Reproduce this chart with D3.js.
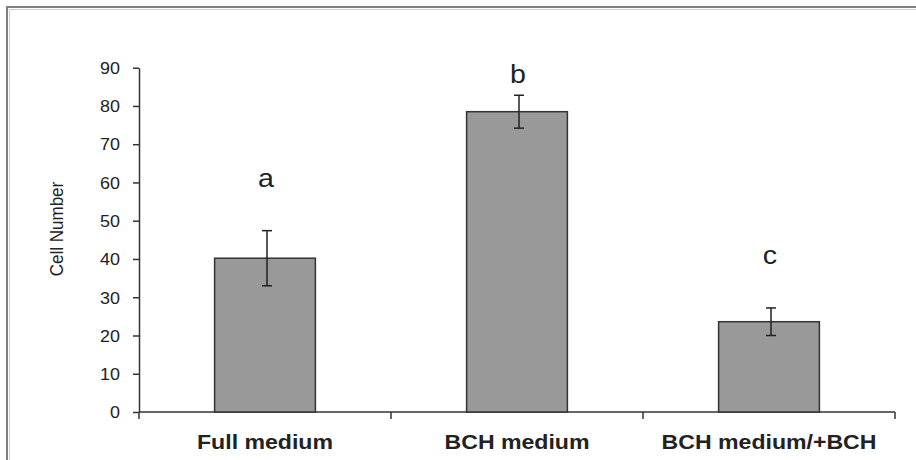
<!DOCTYPE html>
<html>
<head>
<meta charset="utf-8">
<script src="https://cdn.jsdelivr.net/npm/d3@7"></script>
<style>
  html, body { margin: 0; padding: 0; background: #fff; }
  svg { display: block; }
  text { font-family: "Liberation Sans", Arial, sans-serif; fill: #222; }
</style>
</head>
<body>
<svg id="chart" width="916" height="460"></svg>
<script>
// Cell counts per culture condition (mean ± error)
const categories = ["Full medium", "BCH medium", "BCH medium/+BCH"];
const means = [40.2, 78.5, 23.6];
const errors = [7.2, 4.3, 3.6];
const groupLetters = ["a", "b", "c"];
const yTicks = [0, 10, 20, 30, 40, 50, 60, 70, 80, 90];
const yLabel = "Cell Number";

const svg = d3.select("#chart");
const W = 916, H = 460;
const plot = { left: 139, right: 895, top: 67.7, bottom: 412 };
const stretch = 1.12;

// outer frame
svg.append("rect")
  .attr("x", 7).attr("y", 7)
  .attr("width", W + 10).attr("height", H + 10)
  .attr("fill", "#fff")
  .attr("stroke", "#808080").attr("stroke-width", 2);
svg.append("rect")
  .attr("x", 9.5).attr("y", 9.5)
  .attr("width", W + 10).attr("height", H + 10)
  .attr("fill", "none")
  .attr("stroke", "#d0d0d0").attr("stroke-width", 1);

const x = d3.scaleBand()
  .domain(categories)
  .range([plot.left, plot.right])
  .paddingInner(0.6)
  .paddingOuter(0.3);

const y = d3.scaleLinear()
  .domain([0, 90])
  .range([plot.bottom, plot.top]);

// y axis
const yAxis = svg.append("g")
  .attr("transform", `translate(${plot.left},0)`)
  .call(d3.axisLeft(y).tickValues(yTicks).tickSize(6).tickSizeOuter(0));
yAxis.select(".domain").attr("stroke", "#333").attr("stroke-width", 1.5);
yAxis.selectAll(".tick line").attr("stroke", "#333").attr("stroke-width", 1.5);
yAxis.selectAll(".tick text")
  .attr("x", 0).attr("dy", "0.36em")
  .attr("transform", `translate(-19,0) scale(${stretch},1)`)
  .attr("text-anchor", "end")
  .style("font-family", "'Liberation Sans', Arial, sans-serif")
  .style("font-size", "16px")
  .attr("fill", "#222");

// x axis baseline and category boundary ticks
svg.append("line")
  .attr("x1", plot.left).attr("x2", plot.right)
  .attr("y1", y(0)).attr("y2", y(0))
  .attr("stroke", "#333").attr("stroke-width", 1.5);
const step = x.step();
const boundaries = categories.map(c => x(c) - step * x.paddingOuter());
boundaries.push(plot.right);
svg.selectAll(".xtick").data(boundaries).join("line")
  .attr("class", "xtick")
  .attr("x1", d => d).attr("x2", d => d)
  .attr("y1", y(0)).attr("y2", y(0) + 7)
  .attr("stroke", "#333").attr("stroke-width", 1.5);

// category labels
svg.selectAll(".xlabel").data(categories).join("text")
  .attr("class", "xlabel")
  .attr("transform", d => `translate(${x(d) + x.bandwidth() / 2},449) scale(1.1,1)`)
  .attr("text-anchor", "middle")
  .style("font-size", "21px")
  .style("font-weight", "bold")
  .text(d => d);

// bars
svg.selectAll(".bar").data(means).join("rect")
  .attr("class", "bar")
  .attr("x", (d, i) => x(categories[i]))
  .attr("y", d => y(d))
  .attr("width", x.bandwidth())
  .attr("height", d => y(0) - y(d))
  .attr("fill", "#999999")
  .attr("stroke", "#333").attr("stroke-width", 1.5);

// error bars
const cap = 5;
const eb = svg.selectAll(".err").data(means).join("g").attr("class", "err")
  .attr("stroke", "#222").attr("stroke-width", 1.5);
eb.append("line")
  .attr("x1", (d, i) => x(categories[i]) + x.bandwidth() / 2 + 2)
  .attr("x2", (d, i) => x(categories[i]) + x.bandwidth() / 2 + 2)
  .attr("y1", (d, i) => y(d + errors[i]))
  .attr("y2", (d, i) => y(d - errors[i]));
eb.append("line")
  .attr("x1", (d, i) => x(categories[i]) + x.bandwidth() / 2 + 2 - cap)
  .attr("x2", (d, i) => x(categories[i]) + x.bandwidth() / 2 + 2 + cap)
  .attr("y1", (d, i) => y(d + errors[i]))
  .attr("y2", (d, i) => y(d + errors[i]));
eb.append("line")
  .attr("x1", (d, i) => x(categories[i]) + x.bandwidth() / 2 + 2 - cap)
  .attr("x2", (d, i) => x(categories[i]) + x.bandwidth() / 2 + 2 + cap)
  .attr("y1", (d, i) => y(d - errors[i]))
  .attr("y2", (d, i) => y(d - errors[i]));

// significance letters above each bar
svg.selectAll(".letter").data(groupLetters).join("text")
  .attr("class", "letter")
  .attr("transform", (d, i) =>
    `translate(${x(categories[i]) + x.bandwidth() / 2 + 1},${y(means[i] + errors[i]) - 44 + (i === 1 ? 32 : 0)}) scale(1.1,1)`)
  .attr("text-anchor", "middle")
  .style("font-size", "26px")
  .text(d => d);

// y-axis title
svg.append("text")
  .attr("transform", "translate(63,229) rotate(-90) scale(1,1.1)")
  .attr("text-anchor", "middle")
  .style("font-size", "17px")
  .text(yLabel);
</script>
</body>
</html>
